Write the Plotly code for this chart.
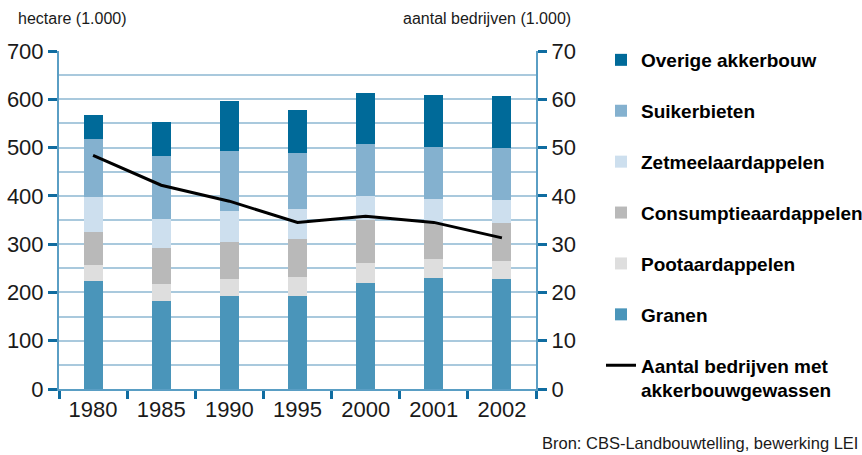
import plotly.graph_objects as go

years = ["1980", "1985", "1990", "1995", "2000", "2001", "2002"]
granen = [224, 182, 193, 193, 220, 230, 228]
pootaardappelen = [33, 35, 35, 39, 41, 39, 37]
consumptieaardappelen = [68, 74, 76, 78, 88, 74, 78]
zetmeelaardappelen = [72, 61, 64, 63, 50, 50, 48]
suikerbieten = [120, 130, 124, 115, 109, 109, 109]
overige = [51, 70, 105, 89, 104, 106, 106]
bedrijven = [48.4, 42.2, 38.9, 34.5, 35.8, 34.5, 31.3]

series = [
    ("Granen", granen, "#4a95ba"),
    ("Pootaardappelen", pootaardappelen, "#dedede"),
    ("Consumptieaardappelen", consumptieaardappelen, "#b9b9b9"),
    ("Zetmeelaardappelen", zetmeelaardappelen, "#cddfee"),
    ("Suikerbieten", suikerbieten, "#84b1cf"),
    ("Overige akkerbouw", overige, "#006a99"),
]

FONT = "Liberation Sans, Arial, sans-serif"
AXIS = "#5a9ec4"
TICK = "#0f6ca0"
GRID = "#a9c9dd"

fig = go.Figure()
for i, (name, vals, col) in enumerate(series):
    fig.add_trace(go.Bar(
        x=years, y=vals, name=name, marker=dict(color=col, line=dict(width=0)),
        width=0.28, legendgroup=name, legendrank=10 - i,
    ))
fig.add_trace(go.Scatter(
    x=years, y=bedrijven, yaxis="y2", mode="lines",
    name="Aantal bedrijven met<br>akkerbouwgewassen",
    line=dict(color="black", width=3), legendgroup="line", legendrank=20,
))

fig.update_layout(
    barmode="stack",
    width=862, height=455,
    margin=dict(l=59, r=326, t=51, b=66),
    paper_bgcolor="white", plot_bgcolor="white",
    font=dict(family=FONT, color="#1a1a1a"),
    showlegend=True,
    legend=dict(
        xref="container", yref="container",
        x=0.6972, xanchor="left", y=0.9099, yanchor="top",
        font=dict(size=19, family=FONT, color="black", weight="bold"),
        tracegroupgap=23.2, traceorder="grouped", valign="top",
        itemwidth=30, maxheight=1.0,
    ),
    xaxis=dict(
        type="category", showline=True, linecolor=AXIS, linewidth=2,
        ticks="outside", tickson="boundaries", ticklen=8, tickwidth=3, tickcolor=TICK,
        tickfont=dict(size=22, family=FONT), showgrid=False, automargin=False,
    ),
    yaxis=dict(
        range=[0, 700], dtick=100, showline=True, linecolor=AXIS, linewidth=2,
        ticks="outside", ticklen=9, tickwidth=3, tickcolor=TICK,
        tickfont=dict(size=22, family=FONT),
        showgrid=True, gridcolor=GRID, gridwidth=1.5,
        minor=dict(dtick=50, showgrid=True, gridcolor=GRID, gridwidth=1.5),
        zeroline=False, automargin=False,
    ),
    yaxis2=dict(
        range=[0, 70], dtick=10, overlaying="y", side="right",
        showline=True, linecolor=AXIS, linewidth=2,
        ticks="outside", ticklen=9, tickwidth=3, tickcolor=TICK,
        tickfont=dict(size=22, family=FONT), showgrid=False, zeroline=False,
        automargin=False,
    ),
    annotations=[
        dict(text="hectare (1.000)", xref="paper", yref="paper", x=-0.090, y=1.0976,
             xanchor="left", yanchor="middle", showarrow=False, font=dict(size=16, family=FONT)),
        dict(text="aantal bedrijven (1.000)", xref="paper", yref="paper", x=1.0776, y=1.0976,
             xanchor="right", yanchor="middle", showarrow=False, font=dict(size=16, family=FONT)),
        dict(text="Bron: CBS-Landbouwtelling, bewerking LEI", xref="paper", yref="paper",
             x=1.679, y=-0.16, xanchor="right", yanchor="middle", showarrow=False,
             font=dict(size=16.5, family=FONT)),
    ],
)

fig.write_html(
    "out.html",
    config={"displayModeBar": False},
    post_script="document.body.style.margin='0';document.body.style.overflow='hidden';",
)
